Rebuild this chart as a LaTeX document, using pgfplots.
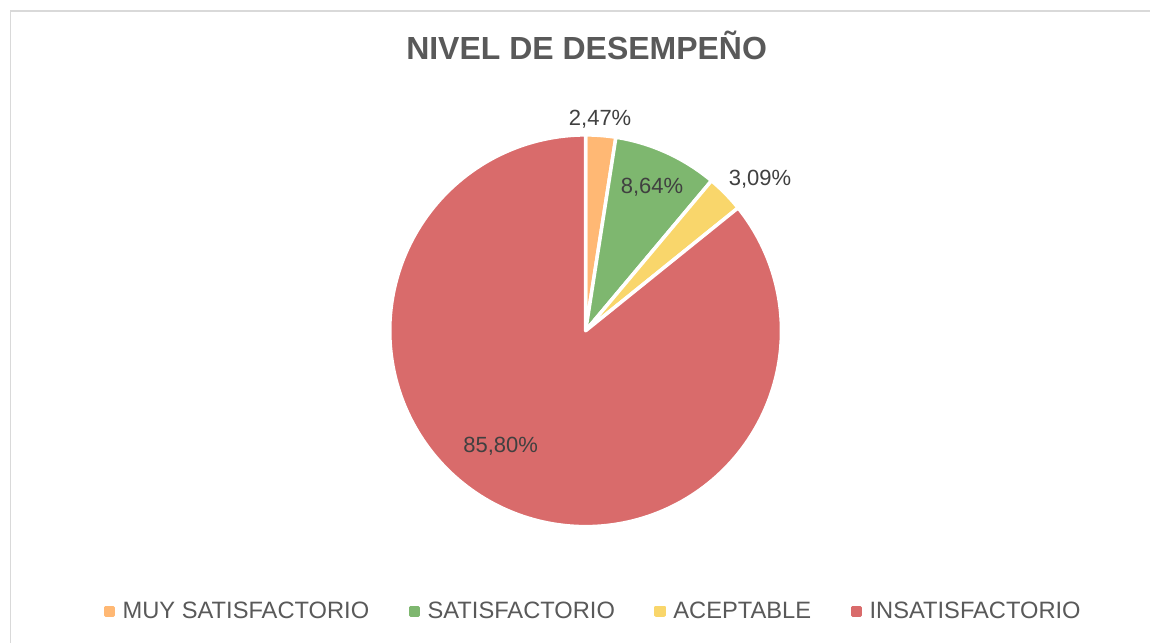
\documentclass[border=0pt]{standalone}
\usepackage{pgfplots}
\pgfplotsset{compat=1.18}
\usepackage{fontspec}
\setmainfont{Liberation Sans}
\definecolor{cOr}{HTML}{FFB874}
\definecolor{cGr}{HTML}{7EB76F}
\definecolor{cYe}{HTML}{F9D66B}
\definecolor{cRe}{HTML}{D96B6B}
\definecolor{cLab}{HTML}{404040}
\definecolor{cLeg}{HTML}{595959}
\definecolor{cBord}{HTML}{D9D9D9}
\begin{document}
\begin{tikzpicture}
% data (percent)
\def\vA{2.47}\def\vB{8.64}\def\vC{3.09}\def\vD{85.80}
\pgfmathsetmacro\aA{90}
\pgfmathsetmacro\aB{90-3.6*\vA}
\pgfmathsetmacro\aC{\aB-3.6*\vB}
\pgfmathsetmacro\aD{\aC-3.6*\vC}
\pgfmathsetmacro\aE{\aD-3.6*\vD}
\fill[white] (0,0) rectangle (1151pt,643pt);
\begin{axis}[at={(0,0)}, anchor=south west,
  width=1151pt, height=643pt, scale only axis, hide axis,
  xmin=0, xmax=1151, ymin=0, ymax=643, clip=false,
  legend columns=4,
  legend style={at={(0.5148,0.0487)}, anchor=center, draw=none, fill=none,
    inner sep=0pt, font=\fontsize{23.7}{27}\selectfont, text=cLeg,
    nodes={inner sep=0pt},
    /tikz/every odd column/.append style={column sep=7.5pt},
    /tikz/every even column/.append style={column sep=39.5pt}},
]
\addplot[fill=cOr, draw=white, line width=3.5pt, line join=round, domain=\aB:\aA, samples=30, variable=\t,
  legend image code/.code={\fill[cOr] (0pt,-4pt) rectangle (8pt,4pt);}]
  ({586+196*cos(\t)},{312+196*sin(\t)}) -- (axis cs:586,312) -- cycle;
\addlegendentry{MUY SATISFACTORIO}
\addplot[fill=cGr, draw=white, line width=3.5pt, line join=round, domain=\aC:\aB, samples=40, variable=\t,
  legend image code/.code={\fill[cGr] (0pt,-4pt) rectangle (8pt,4pt);}]
  ({586+196*cos(\t)},{312+196*sin(\t)}) -- (axis cs:586,312) -- cycle;
\addlegendentry{SATISFACTORIO}
\addplot[fill=cYe, draw=white, line width=3.5pt, line join=round, domain=\aD:\aC, samples=30, variable=\t,
  legend image code/.code={\fill[cYe] (0pt,-4pt) rectangle (8pt,4pt);}]
  ({586+196*cos(\t)},{312+196*sin(\t)}) -- (axis cs:586,312) -- cycle;
\addlegendentry{ACEPTABLE}
\addplot[fill=cRe, draw=white, line width=3.5pt, line join=round, domain=\aE:\aD, samples=200, variable=\t,
  legend image code/.code={\fill[cRe] (0pt,-4pt) rectangle (8pt,4pt);}]
  ({586+196*cos(\t)},{312+196*sin(\t)}) -- (axis cs:586,312) -- cycle;
\addlegendentry{INSATISFACTORIO}
\node[anchor=base, font=\bfseries\fontsize{32}{38}\selectfont, text=cLeg] at (axis cs:587,583) {NIVEL DE DESEMPEÑO};
\node[anchor=base, font=\fontsize{22}{26}\selectfont, text=cLab] at (axis cs:600.5,517) {2,47\%};
\node[anchor=base, font=\fontsize{22}{26}\selectfont, text=cLab] at (axis cs:652.5,449) {8,64\%};
\node[anchor=base, font=\fontsize{22}{26}\selectfont, text=cLab] at (axis cs:760.5,457) {3,09\%};
\node[anchor=base, font=\fontsize{22}{26}\selectfont, text=cLab] at (axis cs:501,190) {85,80\%};
\draw[cBord, line width=1.5pt] (axis cs:10.75,0) -- (axis cs:10.75,631.75) -- (axis cs:1151,631.75);
\end{axis}
\end{tikzpicture}
\end{document}
